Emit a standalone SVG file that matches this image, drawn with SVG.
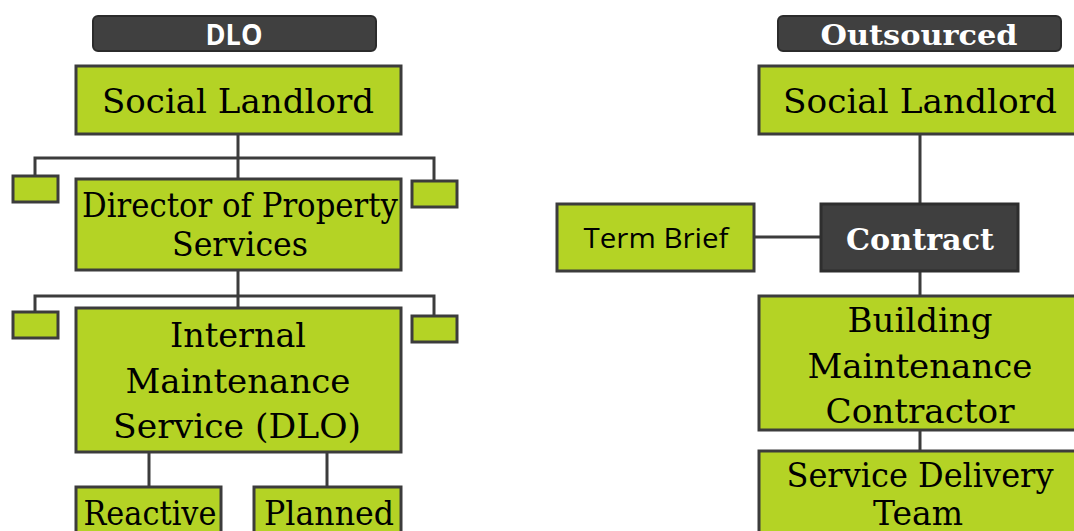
<svg xmlns="http://www.w3.org/2000/svg" width="1074" height="531" viewBox="0 0 1074 531">
<style>
.box{fill:#b4d325;stroke:#3c3c3c;stroke-width:3}
.dark{fill:#3f3f3f;stroke:#2e2e2e;stroke-width:3}
.hdr{fill:#404040;stroke:#2b2b2b;stroke-width:2}
.t{font-family:"DejaVu Serif",serif;fill:#000;text-anchor:middle;font-size:33px}
.tw{font-family:"DejaVu Serif",serif;fill:#fff;text-anchor:middle;font-weight:bold}
.ts{font-family:"Open Sans","Liberation Sans",sans-serif;text-anchor:middle}
.ln{stroke:#3c3c3c;stroke-width:3;fill:none}
</style>
<g id="connectors">
<path class="ln" d="M238 134V179M35 176V158H434V181"/>
<path class="ln" d="M238 270V308M35 312V296H434V316"/>
<path class="ln" d="M149 452V488M327 452V488"/>
<path class="ln" d="M920 134V204M754 237H821M920 271V296M920 430V451"/>
</g>
<g id="hdr-dlo"><rect class="hdr" x="93" y="16" width="283" height="35" rx="5"/><text class="ts" x="234" y="45" font-size="28" font-weight="bold" fill="#fff" textLength="57" lengthAdjust="spacingAndGlyphs">DLO</text></g>
<g id="hdr-out"><rect class="hdr" x="778" y="16" width="283" height="35" rx="5"/><text class="tw" x="919" y="45" font-size="28" textLength="197" lengthAdjust="spacingAndGlyphs">Outsourced</text></g>
<g id="sl-left"><rect class="box" x="76" y="66" width="325" height="68"/><text class="t" x="238" y="113" textLength="272" lengthAdjust="spacingAndGlyphs">Social Landlord</text></g>
<g id="small-1"><rect class="box" x="13" y="176" width="45" height="26"/></g>
<g id="small-2"><rect class="box" x="412" y="181" width="45" height="26"/></g>
<g id="director"><rect class="box" x="76" y="179" width="325" height="91"/><text class="t" x="240" y="217" font-size="30" textLength="316" lengthAdjust="spacingAndGlyphs">Director of Property</text><text class="t" x="240" y="256" font-size="30" textLength="136" lengthAdjust="spacingAndGlyphs">Services</text></g>
<g id="small-3"><rect class="box" x="13" y="312" width="45" height="26"/></g>
<g id="small-4"><rect class="box" x="412" y="316" width="45" height="26"/></g>
<g id="ims"><rect class="box" x="76" y="308" width="325" height="144"/><text class="t" x="238" y="347" textLength="136" lengthAdjust="spacingAndGlyphs">Internal</text><text class="t" x="238" y="393" textLength="225" lengthAdjust="spacingAndGlyphs">Maintenance</text><text class="t" x="237" y="438" textLength="248" lengthAdjust="spacingAndGlyphs">Service (DLO)</text></g>
<g id="reactive"><rect class="box" x="76" y="487" width="145" height="60"/><text class="t" x="150" y="525" font-size="30" textLength="133" lengthAdjust="spacingAndGlyphs">Reactive</text></g>
<g id="planned"><rect class="box" x="254" y="487" width="147" height="60"/><text class="t" x="329" y="525" font-size="30" textLength="130" lengthAdjust="spacingAndGlyphs">Planned</text></g>
<g id="sl-right"><rect class="box" x="759" y="66" width="330" height="68"/><text class="t" x="920" y="113" textLength="274" lengthAdjust="spacingAndGlyphs">Social Landlord</text></g>
<g id="term-brief"><rect class="box" x="557" y="204" width="197" height="67"/><text class="ts" x="656" y="248" font-size="28" textLength="145" lengthAdjust="spacingAndGlyphs">Term Brief</text></g>
<g id="contract"><rect class="dark" x="821" y="204" width="197" height="67"/><text class="tw" x="920" y="250" font-size="30" textLength="148" lengthAdjust="spacingAndGlyphs">Contract</text></g>
<g id="bmc"><rect class="box" x="759" y="296" width="330" height="134"/><text class="t" x="920" y="332" textLength="145" lengthAdjust="spacingAndGlyphs">Building</text><text class="t" x="920" y="378" textLength="225" lengthAdjust="spacingAndGlyphs">Maintenance</text><text class="t" x="920" y="423" textLength="189" lengthAdjust="spacingAndGlyphs">Contractor</text></g>
<g id="sdt"><rect class="box" x="759" y="451" width="330" height="100"/><text class="t" x="920" y="487" font-size="31" textLength="267" lengthAdjust="spacingAndGlyphs">Service Delivery</text><text class="t" x="918" y="525" font-size="31" textLength="90" lengthAdjust="spacingAndGlyphs">Team</text></g>
</svg>
